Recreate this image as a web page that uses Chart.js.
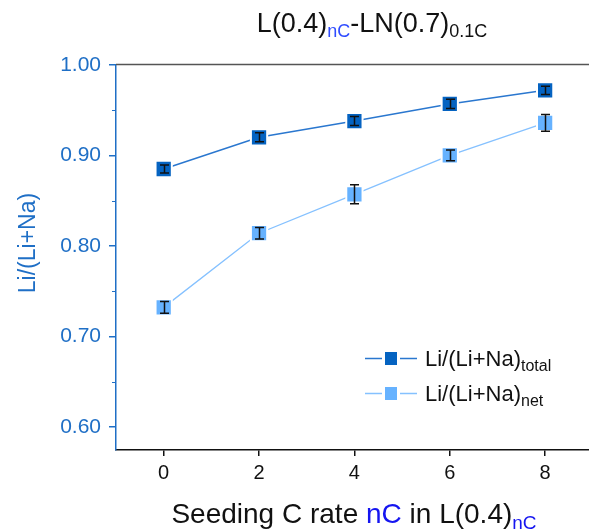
<!DOCTYPE html>
<html>
<head>
<meta charset="utf-8">
<script src="https://cdn.jsdelivr.net/npm/chart.js@4.4.1/dist/chart.umd.min.js"></script>
<style>
  html, body { margin: 0; padding: 0; background: #ffffff; }
  #wrap { width: 589px; height: 531px; position: relative; }
</style>
</head>
<body>
<div id="wrap"><canvas id="c" width="589" height="531"></canvas></div>
<script>
// Seeding C rate (nC) on the x axis
const seedRates = [0, 2, 4, 6, 8];
// Li/(Li+Na) ratios with standard deviations
const totalRatio = [0.885, 0.920, 0.938, 0.957, 0.972];
const totalErr   = [0.0045, 0.005, 0.005, 0.005, 0.0045];
const netRatio   = [0.732, 0.814, 0.857, 0.900, 0.936];
const netErr     = [0.0065, 0.0064, 0.0105, 0.006, 0.0092];
// Axis ticks
const xTickValues = [0, 2, 4, 6, 8];
const yTickValues = [0.60, 0.70, 0.80, 0.90, 1.00];
const yMinorValues = [0.65, 0.75, 0.85, 0.95];
// Legend text (main part + subscript)
const legendMain = 'Li/(Li+Na)';
const legendSubs = ['total', 'net'];

const FONT = "'Liberation Sans', Arial, Helvetica, sans-serif";
const BLUE_AXIS = '#1f6fc6';
const DARK = '#0563c1';
const LIGHT = '#66b2ff';

const seriesStyle = [
  { line: '#2a77cf', fill: DARK, lineWidth: 1.5 },
  { line: '#85c1ff', fill: LIGHT, lineWidth: 1.3 }
];

function richText(ctx, pieces, x, y, align) {
  // pieces: [{t, size, color, dy}]
  let total = 0;
  pieces.forEach(p => { ctx.font = p.size + 'px ' + FONT; total += ctx.measureText(p.t).width; });
  let cx = align === 'center' ? x - total / 2 : x;
  ctx.textAlign = 'left';
  ctx.textBaseline = 'alphabetic';
  pieces.forEach(p => {
    ctx.font = p.size + 'px ' + FONT;
    ctx.fillStyle = p.color;
    ctx.fillText(p.t, cx, y + (p.dy || 0));
    cx += ctx.measureText(p.t).width;
  });
}

const decorPlugin = {
  id: 'decor',
  afterDraw(chart) {
    const ctx = chart.ctx;
    const area = chart.chartArea;
    const ys = chart.scales.y;
    ctx.save();

    // top frame line
    ctx.strokeStyle = '#555555';
    ctx.lineWidth = 1.5;
    ctx.beginPath();
    ctx.moveTo(area.left, area.top - 0.5);
    ctx.lineTo(area.right, area.top - 0.5);
    ctx.stroke();

    // minor y ticks
    ctx.strokeStyle = BLUE_AXIS;
    ctx.lineWidth = 1;
    yMinorValues.forEach(v => {
      const py = Math.round(ys.getPixelForValue(v)) + 0.5;
      ctx.beginPath();
      ctx.moveTo(area.left - 4, py);
      ctx.lineTo(area.left, py);
      ctx.stroke();
    });

    // title
    richText(ctx, [
      { t: 'L(0.4)', size: 27, color: '#111' },
      { t: 'nC', size: 18, color: '#2f4cff', dy: 5 },
      { t: '-LN(0.7)', size: 27, color: '#111' },
      { t: '0.1C', size: 18, color: '#111', dy: 5 }
    ], 372, 32, 'center');

    // x axis title
    richText(ctx, [
      { t: 'Seeding C rate ', size: 28, color: '#111' },
      { t: 'nC', size: 28, color: '#1515f0' },
      { t: ' in L(0.4)', size: 28, color: '#111' },
      { t: 'nC', size: 19, color: '#1515f0', dy: 6 }
    ], 354, 523, 'center');

    // y axis title
    ctx.save();
    ctx.translate(35, 243);
    ctx.rotate(-Math.PI / 2);
    ctx.font = '23px ' + FONT;
    ctx.fillStyle = BLUE_AXIS;
    ctx.textAlign = 'center';
    ctx.textBaseline = 'alphabetic';
    ctx.fillText('Li/(Li+Na)', 0, 0);
    ctx.restore();

    // legend
    chart.data.datasets.forEach((ds, i) => {
      const cy = 358 + i * 35;
      const st = seriesStyle[i];
      ctx.strokeStyle = st.line;
      ctx.lineWidth = st.lineWidth;
      ctx.beginPath();
      ctx.moveTo(365, cy + 0.5); ctx.lineTo(382, cy + 0.5);
      ctx.moveTo(400, cy + 0.5); ctx.lineTo(417, cy + 0.5);
      ctx.stroke();
      ctx.fillStyle = st.fill;
      ctx.fillRect(385, cy - 6, 12, 13);
      richText(ctx, [
        { t: legendMain, size: 22, color: '#111' },
        { t: legendSubs[i], size: 16, color: '#111', dy: 5 }
      ], 425, cy + 8, 'left');
    });

    ctx.restore();
  }
};

const errorBarPlugin = {
  id: 'errorBars',
  afterDatasetsDraw(chart) {
    const ctx = chart.ctx;
    const xs = chart.scales.x, ys = chart.scales.y;
    const sets = [[totalRatio, totalErr], [netRatio, netErr]];
    ctx.save();
    ctx.strokeStyle = '#111111';
    ctx.lineWidth = 1.5;
    sets.forEach(([vals, errs]) => {
      vals.forEach((v, k) => {
        const px = Math.round(xs.getPixelForValue(seedRates[k])) + 0.5;
        const top = ys.getPixelForValue(v + errs[k]);
        const bot = ys.getPixelForValue(v - errs[k]);
        ctx.beginPath();
        ctx.moveTo(px, top); ctx.lineTo(px, bot);
        ctx.moveTo(px - 4.5, top); ctx.lineTo(px + 4.5, top);
        ctx.moveTo(px - 4.5, bot); ctx.lineTo(px + 4.5, bot);
        ctx.stroke();
      });
    });
    ctx.restore();
  }
};

const toPoints = (vals) => vals.map((v, k) => ({ x: seedRates[k], y: v }));

new Chart(document.getElementById('c'), {
  type: 'line',
  data: {
    datasets: [
      {
        label: 'Li/(Li+Na)total',
        data: toPoints(totalRatio),
        borderColor: seriesStyle[0].line,
        borderWidth: seriesStyle[0].lineWidth,
        backgroundColor: DARK,
        pointStyle: 'rect',
        pointRadius: 11.5,
        pointBorderColor: '#ffffff',
        pointBorderWidth: 2,
        pointBackgroundColor: DARK,
        tension: 0
      },
      {
        label: 'Li/(Li+Na)net',
        data: toPoints(netRatio),
        borderColor: seriesStyle[1].line,
        borderWidth: seriesStyle[1].lineWidth,
        backgroundColor: LIGHT,
        pointStyle: 'rect',
        pointRadius: 11.5,
        pointBorderColor: '#ffffff',
        pointBorderWidth: 2,
        pointBackgroundColor: LIGHT,
        tension: 0
      }
    ]
  },
  options: {
    responsive: false,
    animation: false,
    layout: { autoPadding: false, padding: { top: 65, right: 0, left: 0, bottom: 0 } },
    plugins: {
      legend: { display: false },
      tooltip: { enabled: false },
      title: { display: false }
    },
    scales: {
      x: {
        type: 'linear',
        min: -1,
        max: 8.92,
        afterBuildTicks: (s) => { s.ticks = xTickValues.map(v => ({ value: v })); },
        afterFit: (s) => { s.height = 81; s.paddingLeft = 0; s.paddingRight = 0; },
        ticks: {
          color: '#111',
          font: { family: FONT, size: 20 },
          padding: 5,
          callback: (v) => String(v),
          maxRotation: 0
        },
        grid: {
          drawOnChartArea: false,
          drawTicks: true,
          tickLength: 6,
          color: '#111',
          lineWidth: 1.5
        },
        border: { display: true, color: '#111', width: 1.5 }
      },
      y: {
        type: 'linear',
        min: 0.5743,
        max: 1.0,
        afterBuildTicks: (s) => { s.ticks = yTickValues.map(v => ({ value: v })); },
        afterFit: (s) => { s.width = 116; s.paddingTop = 0; s.paddingBottom = 0; },
        ticks: {
          color: BLUE_AXIS,
          font: { family: FONT, size: 21 },
          padding: 8,
          callback: (v) => Number(v).toFixed(2)
        },
        grid: {
          drawOnChartArea: false,
          drawTicks: true,
          tickLength: 7,
          color: BLUE_AXIS,
          lineWidth: 1.5
        },
        border: { display: true, color: BLUE_AXIS, width: 1.5 }
      }
    }
  },
  plugins: [errorBarPlugin, decorPlugin]
});
</script>
</body>
</html>
